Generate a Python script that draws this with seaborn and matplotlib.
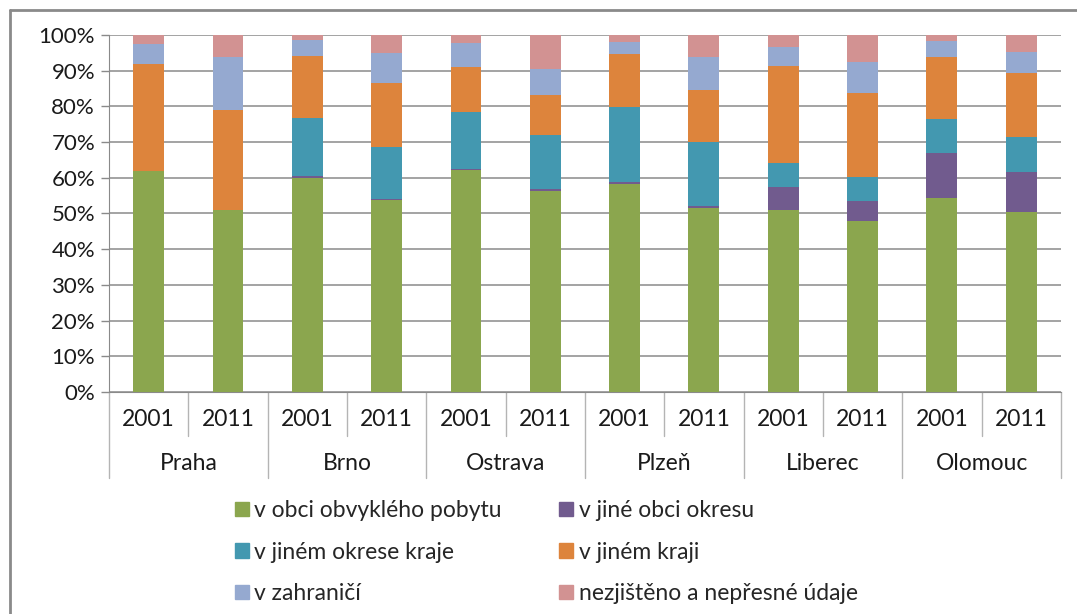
import matplotlib
matplotlib.use("Agg")
import matplotlib.pyplot as plt
import matplotlib.patches as mpatches
from matplotlib.lines import Line2D
import seaborn as sns
import numpy as np
import pandas as pd

# data (percent of employed, by place of work)
cities = ["Praha", "Brno", "Ostrava", "Plzeň", "Liberec", "Olomouc"]
years = ["2001", "2011"]
series_names = ["v obci obvyklého pobytu", "v jiné obci okresu", "v jiném okrese kraje",
                "v jiném kraji", "v zahraničí", "nezjištěno a nepřesné údaje"]

v_obci = [62.0, 50.9, 60.0, 53.8, 62.2, 56.2, 58.3, 51.4, 50.9, 47.9, 54.3, 50.3]
jina_obec = [0.0, 0.0, 0.4, 0.2, 0.2, 0.6, 0.5, 0.7, 6.6, 5.7, 12.6, 11.4]
jiny_okres = [0.0, 0.0, 16.3, 14.7, 15.9, 15.1, 21.1, 17.8, 6.7, 6.6, 9.6, 9.7]
jiny_kraj = [29.9, 28.1, 17.3, 17.9, 12.7, 11.2, 14.7, 14.7, 27.1, 23.6, 17.3, 18.0]
zahranici = [5.5, 14.7, 4.5, 8.4, 6.7, 7.5, 3.4, 9.3, 5.4, 8.6, 4.5, 5.8]
nezjisteno = [2.6, 6.3, 1.5, 5.0, 2.3, 9.4, 2.0, 6.1, 3.3, 7.6, 1.7, 4.8]

colors = ["#8BA64E", "#715B8E", "#4398B0", "#DD843C", "#95A9D0", "#D29292"]

labels = [c + " " + y for c in cities for y in years]
df = pd.DataFrame({"label": labels})
for name, vals in zip(series_names, [v_obci, jina_obec, jiny_okres, jiny_kraj, zahranici, nezjisteno]):
    df[name] = vals

sns.set_style("white")
plt.rcParams["font.family"] = ["Lato", "DejaVu Sans"]

fig = plt.figure(figsize=(10.77, 6.14), dpi=100)
ax = fig.add_axes([0.1012, 0.3616, 0.8839, 0.5814])

# stacked bars: draw cumulative totals from the top series down
cum = df[series_names].cumsum(axis=1)
for i in range(len(series_names) - 1, -1, -1):
    sns.barplot(x=df["label"], y=cum[series_names[i]], color=colors[i], width=0.39,
                saturation=1, linewidth=0, edgecolor="none", ax=ax, zorder=3)

ax.set_xlim(-0.5, len(labels) - 0.5)
ax.set_ylim(0, 100)
ax.set_yticks(np.arange(0, 101, 10))
ax.set_yticklabels(["%d%%" % t for t in range(0, 101, 10)], fontsize=16, color="#1a1a1a")
ax.set_xticks([])
ax.set_xlabel("")
ax.set_ylabel("")
ax.yaxis.grid(True, color="#8a8a8a", lw=1.1, zorder=0)
ax.set_axisbelow(True)
for s in ["top", "right"]:
    ax.spines[s].set_visible(False)
ax.spines["left"].set_color("#8a8a8a")
ax.spines["bottom"].set_color("#8a8a8a")
ax.tick_params(axis="y", direction="out", length=6, width=1, color="#8a8a8a", pad=4, left=True)

# two-level category axis
trans = ax.get_xaxis_transform()
sep_col = "#b4b4b4"
for i, lab in enumerate(labels):
    ax.text(i, -0.078, years[i % 2], transform=trans, ha="center", va="center",
            fontsize=16.5, color="#1a1a1a")
for j, c in enumerate(cities):
    ax.text(2 * j + 0.5, -0.199, c, transform=trans, ha="center", va="center",
            fontsize=16.5, color="#1a1a1a")
    ax.add_line(Line2D([2 * j + 0.5, 2 * j + 0.5], [0, -0.123], transform=trans,
                       color=sep_col, lw=1, clip_on=False))
for k in range(len(cities) + 1):
    ax.add_line(Line2D([2 * k - 0.5, 2 * k - 0.5], [0, -0.241], transform=trans,
                       color=sep_col, lw=1, clip_on=False))

# legend, filled row by row
order = [0, 2, 4, 1, 3, 5]
handles = [mpatches.Patch(color=colors[i], label=series_names[i]) for i in order]
fig.legend(handles=handles, ncol=2, loc="upper left", bbox_to_anchor=(0.2182, 0.1857),
           frameon=False, fontsize=16.5, handlelength=0.6, handleheight=0.6,
           handletextpad=0.25, columnspacing=2.5, labelspacing=0.9,
           borderpad=0, borderaxespad=0)

# outer chart frame (cut by image edges)
fig.add_artist(Line2D([10 / 1077, 1.0], [1 - 10 / 614, 1 - 10 / 614], transform=fig.transFigure,
                      color="#8a8a8a", lw=2))
fig.add_artist(Line2D([10 / 1077, 10 / 1077], [0.0, 1 - 10 / 614], transform=fig.transFigure,
                      color="#8a8a8a", lw=2))

fig.savefig("out.png", dpi=100)
